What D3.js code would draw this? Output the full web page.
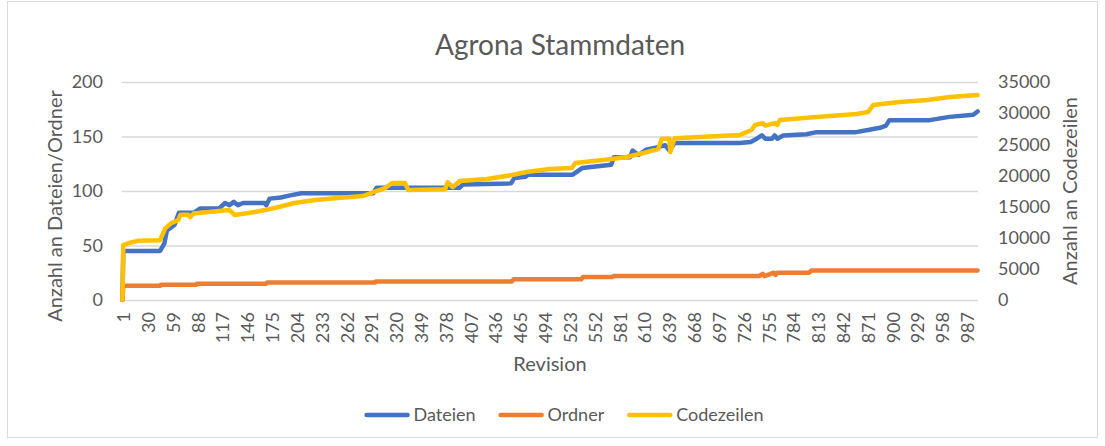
<!DOCTYPE html>
<html>
<head>
<meta charset="utf-8">
<script src="https://cdn.jsdelivr.net/npm/d3@7"></script>
<style>
body { margin: 0; background: #fff; }
svg text { font-family: Lato, "Open Sans", sans-serif; fill: #595959; }
</style>
</head>
<body>
<div id="chart"></div>
<script>
// [revision, value], only where the line changes
const dateien = [[1, 0], [2, 45], [45, 45], [50, 52], [53, 64], [57, 66], [62, 69], [67, 80], [84, 80], [88, 82], [92, 84], [114, 84], [121, 89], [126, 87], [131, 90], [136, 87], [142, 89], [167, 89], [169, 87], [173, 93], [186, 94], [197, 96], [210, 98], [294, 98], [298, 103], [395, 103], [399, 106], [455, 107], [459, 112], [472, 113], [475, 115], [527, 115], [538, 121], [572, 124], [575, 131], [594, 131], [597, 137], [604, 133], [613, 138], [625, 140], [635, 142], [640, 137], [646, 144], [722, 144], [735, 145], [742, 148], [748, 151], [752, 148], [760, 148], [763, 151], [766, 148], [773, 151], [800, 152], [812, 154], [858, 154], [872, 156], [886, 158], [893, 160], [897, 165], [944, 165], [967, 168], [995, 170], [1000, 173]];
const ordner = [[1, 0], [2, 13], [45, 13], [46, 14], [87, 14], [88, 15], [169, 15], [170, 16], [296, 16], [297, 17], [456, 17], [458, 19], [537, 19], [539, 21], [573, 21], [575, 22], [745, 22], [749, 24], [751, 22], [762, 25], [764, 23], [766, 25], [803, 25], [806, 27], [1000, 27]];
const codezeilen = [[1, 0], [2, 8800], [10, 9200], [19, 9500], [45, 9600], [51, 11500], [58, 12350], [66, 12800], [69, 13700], [78, 13700], [80, 13300], [84, 13900], [126, 14450], [132, 13650], [156, 14120], [179, 14770], [202, 15570], [226, 16050], [253, 16370], [282, 16700], [294, 17330], [308, 17980], [316, 18780], [331, 18780], [335, 17660], [378, 17800], [381, 18940], [387, 18130], [395, 19100], [427, 19420], [456, 20060], [473, 20540], [500, 21020], [526, 21180], [530, 21990], [573, 22630], [590, 22950], [609, 23590], [627, 24240], [631, 25900], [640, 25900], [641, 23750], [646, 25950], [722, 26480], [736, 27290], [740, 28090], [749, 28400], [752, 28000], [763, 28400], [766, 28100], [769, 28890], [812, 29370], [859, 29850], [872, 30170], [878, 31300], [909, 31780], [941, 32100], [968, 32580], [1000, 32900]];

const revisionTicks = [1, 30, 59, 88, 117, 146, 175, 204, 233, 262, 291, 320, 349, 378, 407, 436, 465, 494, 523, 552, 581, 610, 639, 668, 697, 726, 755, 784, 813, 842, 871, 900, 929, 958, 987];
const leftTicks = [0, 50, 100, 150, 200];
const rightTicks = [0, 5000, 10000, 15000, 20000, 25000, 30000, 35000];
const seriesNames = ["Dateien", "Ordner", "Codezeilen"];
const revisionCount = 1000;

const colors = ["#4472C4", "#ED7D31", "#FFC000"];
const width = 1105;
const height = 446;
const plot = { left: 122, right: 978, top: 82, bottom: 300 };

const svg = d3.select("#chart")
    .append("svg")
    .attr("width", width)
    .attr("height", height);

svg.append("rect")
    .attr("x", 7.5).attr("y", 1.5)
    .attr("width", 1090).attr("height", 436)
    .attr("fill", "#fff")
    .attr("stroke", "#D9D9D9");

const x = d3.scaleLinear()
    .domain([0.5, revisionCount + 0.5])
    .range([plot.left, plot.right]);

const yLeft = d3.scaleLinear()
    .domain([0, 200])
    .range([plot.bottom, plot.top]);

const yRight = d3.scaleLinear()
    .domain([0, 35000])
    .range([plot.bottom, plot.top]);

// gridlines
svg.append("g")
    .attr("transform", `translate(${plot.left},0)`)
    .call(d3.axisLeft(yLeft).tickValues(leftTicks).tickSize(-(plot.right - plot.left)).tickFormat(""))
    .call(g => g.select(".domain").remove())
    .call(g => g.selectAll("line").attr("stroke", "#D9D9D9").attr("stroke-width", 1.3));

// left axis
svg.append("g")
    .attr("transform", `translate(${plot.left},0)`)
    .call(d3.axisLeft(yLeft).tickValues(leftTicks).tickSize(0).tickPadding(19))
    .call(g => g.select(".domain").remove())
    .call(g => g.selectAll("text").style("font-size", "18px").style("font-family", null));

// right axis
svg.append("g")
    .attr("transform", `translate(${plot.right},0)`)
    .call(d3.axisRight(yRight).tickValues(rightTicks).tickSize(0).tickPadding(20).tickFormat(d3.format("d")))
    .call(g => g.select(".domain").remove())
    .call(g => g.selectAll("text").style("font-size", "18px").style("font-family", null));

// bottom axis
svg.append("g")
    .attr("transform", `translate(0,${plot.bottom})`)
    .call(d3.axisBottom(x).tickValues(revisionTicks).tickSize(0))
    .call(g => g.select(".domain").remove())
    .call(g => g.selectAll("text")
        .attr("transform", "rotate(-90)")
        .attr("x", -12)
        .attr("y", 0)
        .attr("dy", "0.4em")
        .style("text-anchor", "end")
        .style("font-size", "18px")
        .style("font-family", null));

// titles
svg.append("text")
    .attr("x", 560).attr("y", 55)
    .attr("text-anchor", "middle")
    .style("font-size", "28px")
    .text("Agrona Stammdaten");

svg.append("text")
    .attr("x", 550).attr("y", 371)
    .attr("text-anchor", "middle")
    .style("font-size", "20px")
    .text("Revision");

svg.append("text")
    .attr("transform", "translate(62,206) rotate(-90)")
    .attr("text-anchor", "middle")
    .style("font-size", "20px")
    .text("Anzahl an Dateien/Ordner");

svg.append("text")
    .attr("transform", "translate(1077,191) rotate(-90)")
    .attr("text-anchor", "middle")
    .style("font-size", "20px")
    .text("Anzahl an Codezeilen");

// lines
const lineLeft = d3.line()
    .x(d => x(d[0]))
    .y(d => yLeft(d[1]));

const lineRight = d3.line()
    .x(d => x(d[0]))
    .y(d => yRight(d[1]));

const series = [
    { name: seriesNames[0], data: dateien, line: lineLeft },
    { name: seriesNames[1], data: ordner, line: lineLeft },
    { name: seriesNames[2], data: codezeilen, line: lineRight }
];

svg.selectAll(".series")
    .data(series)
    .enter()
    .append("path")
    .attr("class", "series")
    .attr("d", s => s.line(s.data))
    .attr("fill", "none")
    .attr("stroke", (s, i) => colors[i])
    .attr("stroke-width", 4.5)
    .attr("stroke-linejoin", "round")
    .attr("stroke-linecap", "round");

// legend
const legend = svg.append("g");
let lx = 0;
seriesNames.forEach((name, i) => {
    const item = legend.append("g").attr("transform", `translate(${lx},0)`);
    item.append("line")
        .attr("x1", 2).attr("x2", 43)
        .attr("stroke", colors[i])
        .attr("stroke-width", 4.5)
        .attr("stroke-linecap", "round");
    const t = item.append("text")
        .attr("x", 49).attr("dy", "0.35em")
        .style("font-size", "18px")
        .text(name);
    lx += 49 + t.node().getComputedTextLength() + 23;
});
lx -= 23;
legend.attr("transform", `translate(${564 - lx / 2},415)`);
</script>
</body>
</html>
